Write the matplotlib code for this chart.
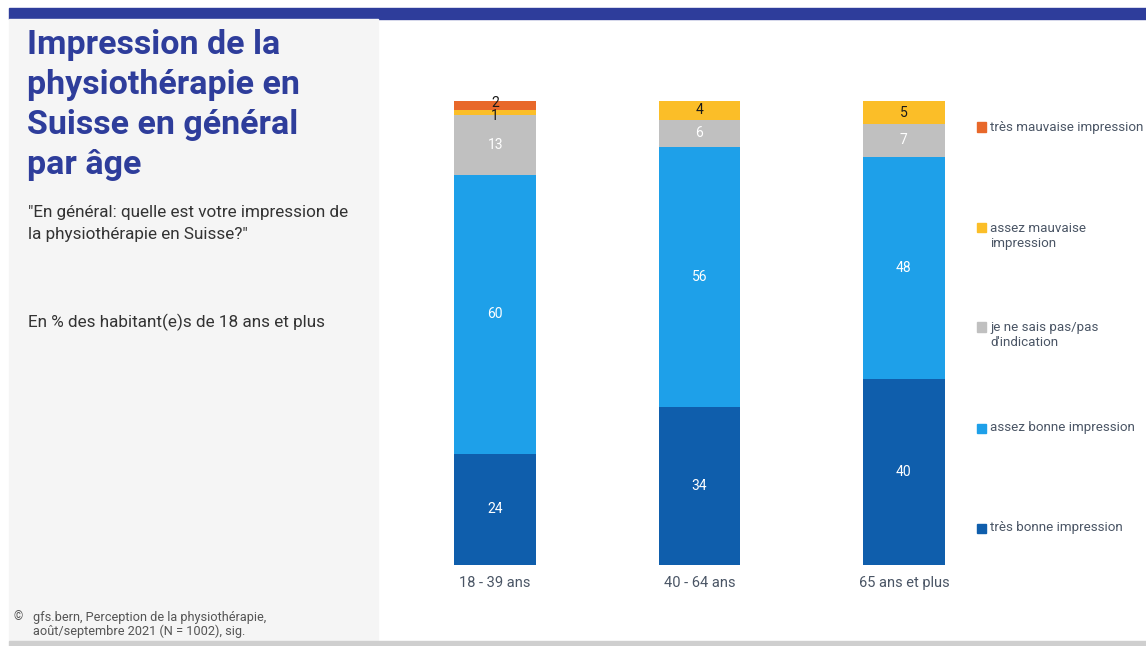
import matplotlib
matplotlib.use("Agg")
import matplotlib.pyplot as plt
from matplotlib.patches import Rectangle

plt.rcParams['font.family'] = ['Roboto', 'DejaVu Sans']

groups = ["18 - 39 ans", "40 - 64 ans", "65 ans et plus"]
series = ["très bonne impression", "assez bonne impression",
          "je ne sais pas/pas\nd'indication", "assez mauvaise\nimpression",
          "très mauvaise impression"]
tres_bonne = [24, 34, 40]
assez_bonne = [60, 56, 48]
ne_sais_pas = [13, 6, 7]
assez_mauvaise = [1, 4, 5]
tres_mauvaise = [2, 0, 0]

values = [tres_bonne, assez_bonne, ne_sais_pas, assez_mauvaise, tres_mauvaise]
colors = ["#0F5EAC", "#1EA0E9", "#C0C0C0", "#FBBE28", "#E8682A"]
label_colors = ["white", "white", "white", "#1a1a1a", "#1a1a1a"]
# nudge for labels of very thin segments so they do not collide
thin_nudge = [0, 0, 0, -0.7, 0.6]

W, H = 1146, 646
fig = plt.figure(figsize=(W / 100, H / 100), dpi=100)
fig.patch.set_facecolor("white")

def px(x, y):
    return x / W, 1 - y / H

# header band, side panel, footer line
fig.patches.append(Rectangle(px(9, 19), (W - 9) / W, 11 / H, transform=fig.transFigure,
                             color="#2E3D9B", zorder=0))
fig.patches.append(Rectangle(px(9, 640), (378 - 9) / W, (640 - 19) / H, transform=fig.transFigure,
                             color="#F5F5F5", zorder=0))
fig.patches.append(Rectangle(px(9, 646), (W - 9) / W, 5 / H, transform=fig.transFigure,
                             color="#CFCFCF", zorder=0))

title_lines = ["Impression de la", "physiothérapie en", "Suisse en général", "par âge"]
for i, line in enumerate(title_lines):
    fig.text(*px(27, 45 + 40 * i), line, fontsize=24.5, fontweight="bold",
             color="#2E3D9B", va="center", ha="left")

fig.text(*px(28, 213), "\"En général: quelle est votre impression de", fontsize=12.3,
         color="#333333", va="center")
fig.text(*px(28, 234), "la physiothérapie en Suisse?\"", fontsize=12.3,
         color="#333333", va="center")
fig.text(*px(28, 322), "En % des habitant(e)s de 18 ans et plus", fontsize=12.3,
         color="#333333", va="center")
fig.text(*px(14, 617), "©", fontsize=8.5, color="#555555", va="center")
fig.text(*px(33, 617), "gfs.bern, Perception de la physiothérapie,", fontsize=9.2,
         color="#555555", va="center")
fig.text(*px(33, 631), "août/septembre 2021 (N = 1002), sig.", fontsize=9.2,
         color="#555555", va="center")

# stacked bars
ax_left, ax_right = 393, 1006
ax = fig.add_axes([ax_left / W, (H - 565) / H, (ax_right - ax_left) / W, 464 / H])
ax.set_xlim(-0.5, 2.5)
ax.set_ylim(0, 100)
ax.axis("off")

x = range(len(groups))
bottoms = [0, 0, 0]
for vals, col, lc, nudge in zip(values, colors, label_colors, thin_nudge):
    ax.bar(x, vals, width=0.4, bottom=bottoms, color=col, edgecolor="none")
    for i, v in enumerate(vals):
        if v > 0:
            yc = bottoms[i] + v / 2
            if v <= 2:
                yc += nudge
            ax.text(i, yc, str(v), ha="center", va="center", fontsize=10, color=lc)
    bottoms = [b + v for b, v in zip(bottoms, vals)]

for i, g in enumerate(groups):
    ax.text(i, -3.9, g, ha="center", va="center", fontsize=10.5, color="#4A5565")

# legend
legend_y = [528, 428, 335, 236, 127]
for name, col, ly in zip(series, colors, legend_y):
    lines = name.split("\n")
    y0 = ly if len(lines) == 1 else ly - 8
    fig.patches.append(Rectangle(px(977, y0 + 4.5), 9 / W, 9 / H, transform=fig.transFigure,
                                 color=col))
    fig.text(*px(990, ly), name, fontsize=9.6, color="#4A5565", va="center", ha="left",
             linespacing=1.2)

fig.savefig("out.png", dpi=100)
